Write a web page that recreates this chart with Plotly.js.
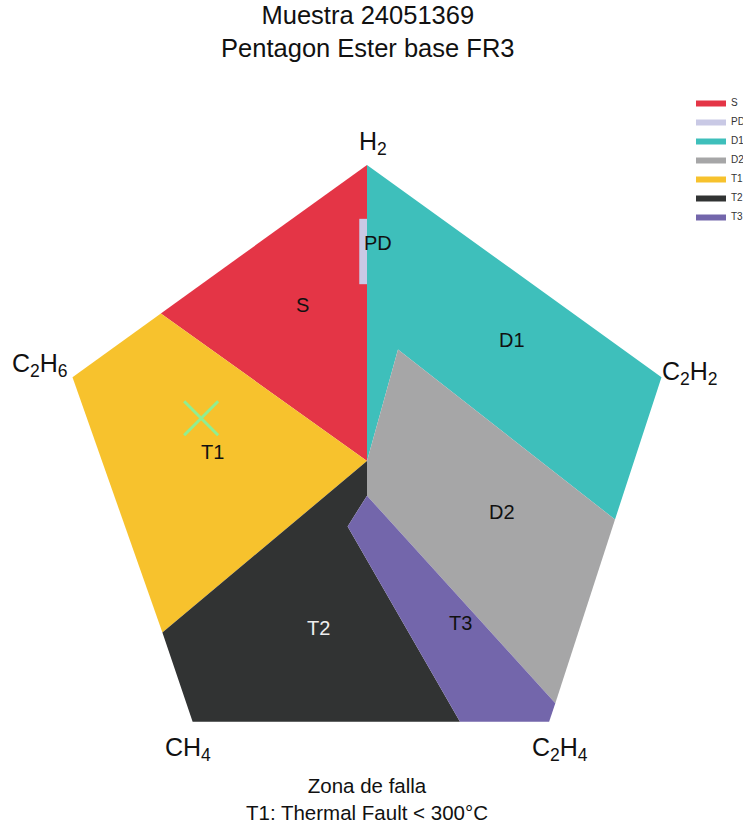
<!DOCTYPE html>
<html><head><meta charset="utf-8">
<script src="https://cdn.plot.ly/plotly-3.0.1.min.js"></script>
<style>html,body{margin:0;padding:0;background:#fff;overflow:hidden;}#chart{width:743px;height:828px;}</style>
</head><body><div id="chart"></div>
<script>
// Zone polygons (pentagon units)
const S_x  = [0, -26.6, 0];
const S_y  = [40, 20.7, 1.5];
const PD_x = [0, -1, -1, 0];
const PD_y = [33, 33, 24.5, 24.5];
const D1_x = [0, 38, 32, 4, 0];
const D1_y = [40, 12.4, -6.1, 16, 1.5];
const D2_x = [4, 32, 24.3, 0, 0];
const D2_y = [16, -6.1, -30, -3, 1.5];
const T1_x = [0, -26.6, -38, -26.4];
const T1_y = [1.5, 20.7, 12.4, -20.8];
const T2_x = [0, -26.4, -22.5, 12, -2.5, 0];
const T2_y = [1.5, -20.8, -32.4, -32.4, -7, -3];
const T3_x = [0, 24.3, 23.5, 12, -2.5];
const T3_y = [-3, -30, -32.4, -32.4, -7];

const zoneNames  = ['S', 'PD', 'D1', 'D2', 'T1', 'T2', 'T3'];
const zoneColors = ['#e43546', '#c9c9e5', '#3ebfbb', '#a6a6a7', '#f7c22d', '#313333', '#7366ab'];
const zoneXs = [S_x, PD_x, D1_x, D2_x, T1_x, T2_x, T3_x];
const zoneYs = [S_y, PD_y, D1_y, D2_y, T1_y, T2_y, T3_y];

// Zone labels
const zoneLabelText = ['S', 'PD', 'D1', 'D2', 'T1', 'T2', 'T3'];
const zoneLabelX = [-8.3, 1.4, 18.7, 17.4, -20, -6.3, 12];
const zoneLabelY = [21.8, 29.9, 17.2, -5.1, 2.7, -20.2, -19.6];
const zoneLabelColor = ['#111', '#111', '#111', '#111', '#111', '#eeeeee', '#111'];

// Vertex (gas) labels
const gasText = ['H<sub>2</sub>', 'C<sub>2</sub>H<sub>6</sub>', 'C<sub>2</sub>H<sub>2</sub>', 'CH<sub>4</sub>', 'C<sub>2</sub>H<sub>4</sub>'];
const gasX = [0.8, -42.2, 41.7, -23.1, 24.9];
const gasY = [42.8, 14, 13, -36, -36];

// Sample point
const sampleX = [-21.4];
const sampleY = [7.06];

const FONT = 'Liberation Sans, Arial, Helvetica, sans-serif';

const traces = zoneNames.map((n, i) => ({
  type: 'scatter', mode: 'lines', name: n,
  x: zoneXs[i], y: zoneYs[i],
  fill: 'toself', fillcolor: zoneColors[i],
  line: {width: 0, color: zoneColors[i]},
  hoverinfo: 'name'
}));
traces.push({
  type: 'scatter', mode: 'markers', x: sampleX, y: sampleY, showlegend: false,
  marker: {symbol: 'x-thin', size: 34, line: {width: 3, color: '#90ee90'}, color: '#90ee90'}
});

const annotations = [];
zoneLabelText.forEach((t, i) => annotations.push({
  x: zoneLabelX[i], y: zoneLabelY[i], text: t, showarrow: false,
  font: {size: 20, color: zoneLabelColor[i], family: FONT}
}));
gasText.forEach((t, i) => annotations.push({
  x: gasX[i], y: gasY[i], text: t, showarrow: false,
  font: {size: 25, color: '#111', family: FONT}
}));
annotations.push({
  x: 0, y: -42.5, text: 'Zona de falla<br>T1: Thermal Fault &lt; 300°C', showarrow: false,
  font: {size: 20.5, color: '#111', family: FONT}
});

const layout = {
  width: 743, height: 828,
  margin: {l: 0, r: 0, t: 0, b: 0, autoexpand: false},
  paper_bgcolor: '#fff', plot_bgcolor: '#fff',
  font: {family: FONT, color: '#111'},
  title: {text: 'Muestra 24051369<br>Pentagon Ester base FR3', x: 0.495, xanchor: 'center',
          xref: 'container', yref: 'container', y: 0.971, yanchor: 'top',
          font: {size: 25.5, color: '#111', family: FONT}},
  xaxis: {range: [-47.355, 48.516], visible: false, fixedrange: true},
  yaxis: {range: [-46.216, 61.456], visible: false, fixedrange: true},
  showlegend: true,
  legend: {x: 0.93, xanchor: 'left', y: 1 - 88/828, yanchor: 'top',
           font: {size: 10, color: '#333', family: FONT}, bgcolor: 'rgba(0,0,0,0)'},
  annotations: annotations
};

Plotly.newPlot('chart', traces, layout, {displayModeBar: false, staticPlot: true});
</script></body></html>
